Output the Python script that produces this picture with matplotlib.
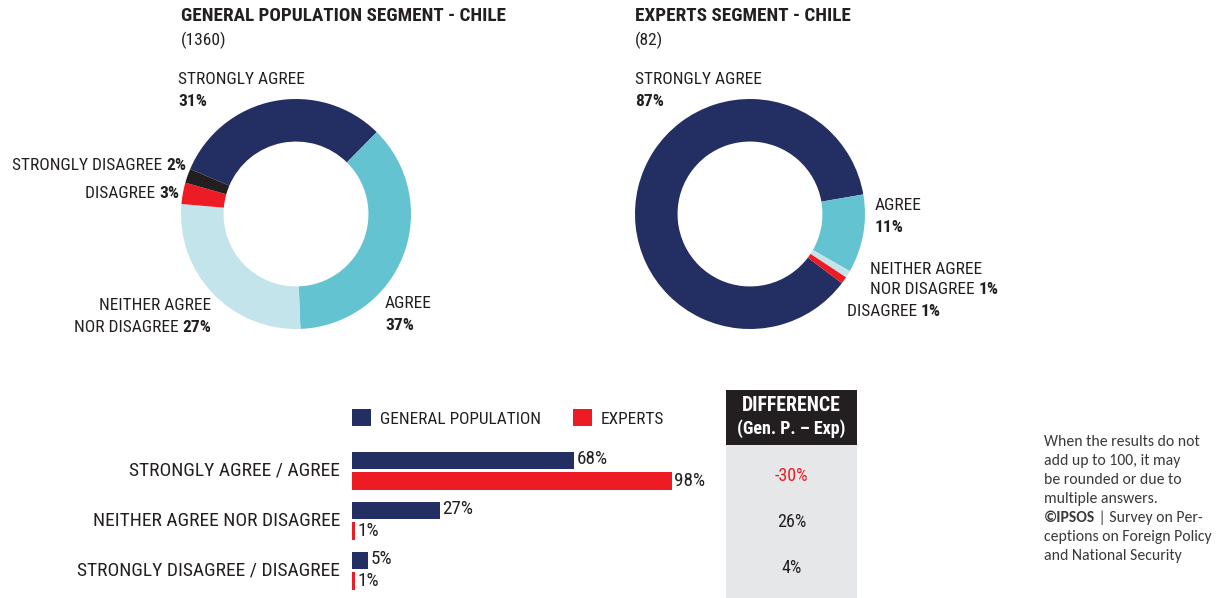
import matplotlib.pyplot as plt
from matplotlib import font_manager
from matplotlib.text import Annotation

W, H = 1217, 598

# data
donut_cats = ['STRONGLY AGREE', 'AGREE', 'NEITHER AGREE NOR DISAGREE', 'DISAGREE', 'STRONGLY DISAGREE']
gen_values = [31, 37, 27, 3, 2]
exp_values = [87, 11, 1, 1]
gen_n = 1360
exp_n = 82

bar_cats = ['STRONGLY AGREE / AGREE', 'NEITHER AGREE NOR DISAGREE', 'STRONGLY DISAGREE / DISAGREE']
bar_gen = [68, 27, 5]
bar_exp = [98, 1, 1]
diff = [g - e for g, e in zip(bar_gen, bar_exp)]

NAVY = '#232E62'
TEAL = '#63C3D1'
LIGHT = '#C2E4EA'
RED = '#ED1C24'
BLACK = '#231F20'
TXT = '#231F20'
donut_colors = [NAVY, TEAL, LIGHT, RED, BLACK]

names = {f.name for f in font_manager.fontManager.ttflist}


def pick(options):
    for o in options:
        if o in names:
            return o
    return 'DejaVu Sans'


FONT = pick(['Liberation Sans Narrow', 'Arial Narrow', 'Roboto Condensed', 'Archivo Narrow', 'Liberation Sans'])
NOTE_FONT = [pick(['Carlito', 'Calibri', 'Lato']), 'DejaVu Sans']
plt.rcParams['font.family'] = [FONT, 'DejaVu Sans']
plt.rcParams['text.color'] = TXT

fig = plt.figure(figsize=(W / 100, H / 100), dpi=100)


def fx(x):
    return x / W


def fy(y):
    return 1 - y / H


def label(x, y, text, size=12.5, weight='normal', ha='left', **kw):
    return fig.text(fx(x), fy(y), text, fontsize=size, fontweight=weight, ha=ha, va='center', **kw)


def attach(text, ref, side, **kw):
    # text glued to the left (side=0) or right (side=1) of another text
    a = Annotation(text, xy=(side, 0), xycoords=ref, ha='left' if side else 'right', va='bottom', **kw)
    fig.add_artist(a)
    return a


def mixed(x, y, reg, bold, size=12.5):
    b = fig.text(fx(x), fy(y), bold, fontsize=size, fontweight='bold', ha='right', va='center')
    attach(reg, b, 0, fontsize=size)
    return b


# ---- donuts
def donut(cx, cy, values, start):
    r = 115
    ax = fig.add_axes([fx(cx - r), fy(cy + r), 2 * r / W, 2 * r / H])
    ax.pie(values, colors=donut_colors[:len(values)], startangle=start, counterclock=False,
           radius=1, wedgeprops=dict(width=0.37, edgecolor='none'))
    ax.set_xlim(-1, 1)
    ax.set_ylim(-1, 1)
    ax.axis('off')
    return ax


donut(296, 214, gen_values, 157)
donut(750, 214, exp_values, -37)

label(181, 16, 'GENERAL POPULATION SEGMENT - CHILE', size=13.8, weight='bold')
label(181, 40, f'({gen_n})', size=12.5)
label(178, 80, donut_cats[0])
label(178, 102, f'{gen_values[0]}%', weight='bold')
mixed(186, 166, 'STRONGLY DISAGREE ', f'{gen_values[4]}%')
mixed(179, 193, 'DISAGREE ', f'{gen_values[3]}%')
label(211, 306, 'NEITHER AGREE', ha='right')
mixed(211, 328, 'NOR DISAGREE ', f'{gen_values[2]}%')
label(385, 303, donut_cats[1])
label(385, 325, f'{gen_values[1]}%', weight='bold')

label(635, 16, 'EXPERTS SEGMENT - CHILE', size=13.8, weight='bold')
label(635, 40, f'({exp_n})', size=12.5)
label(635, 80, donut_cats[0])
label(635, 102, f'{exp_values[0]}%', weight='bold')
label(875, 205, donut_cats[1])
label(875, 227, f'{exp_values[1]}%', weight='bold')
label(870, 269, 'NEITHER AGREE')
nb = label(870, 290, 'NOR DISAGREE ')
attach(f'{exp_values[2]}%', nb, 1, fontsize=12.5, fontweight='bold')
nb2 = label(847, 311, 'DISAGREE ')
attach(f'{exp_values[3]}%', nb2, 1, fontsize=12.5, fontweight='bold')

# ---- bars
ylim = (2.55, -0.51)
axb = fig.add_axes([fx(352), 0, 326.5 / W, 153 / H])
pos = list(range(len(bar_cats)))
h = 0.35
axb.barh([p - 0.2 for p in pos], bar_gen, height=h, color=NAVY, label='GENERAL POPULATION')
axb.barh([p + 0.21 for p in pos], bar_exp, height=h, color=RED, label='EXPERTS')
for p, g, e in zip(pos, bar_gen, bar_exp):
    axb.text(g + 0.7, p - 0.23, f'{g}%', va='center', ha='left', fontsize=13.8, clip_on=False)
    axb.text(e + 0.7, p + 0.22, f'{e}%', va='center', ha='left', fontsize=13.8, clip_on=False)
axb.set_xlim(0, 100)
axb.set_ylim(*ylim)
axb.set_yticks([p - 0.04 for p in pos])
axb.set_yticklabels(bar_cats, fontsize=14)
axb.tick_params(axis='y', length=0, pad=8.5, colors=TXT)
axb.set_xticks([])
for s in axb.spines.values():
    s.set_visible(False)
axb.patch.set_alpha(0)

fig.legend(*axb.get_legend_handles_labels(), loc='center left', bbox_to_anchor=(fx(352), fy(418)),
           ncol=2, frameon=False, fontsize=12.4, handlelength=1.1, handleheight=1.1,
           handletextpad=0.5, columnspacing=1.9, borderpad=0, borderaxespad=0)

# ---- difference box
axd = fig.add_axes([fx(726), 0, 131 / W, 153 / H], facecolor='#E6E7E8')
axd.set_ylim(*ylim)
axd.set_xlim(0, 1)
for p, d in zip(pos, diff):
    axd.text(0.5, p * 0.92 + 0.11, f'{d}%', ha='center', va='center', fontsize=13,
             color=RED if d < 0 else TXT)
axd.set_xticks([])
axd.set_yticks([])
for s in axd.spines.values():
    s.set_visible(False)

axh = fig.add_axes([fx(726), fy(445), 131 / W, 55 / H], facecolor=BLACK)
axh.text(0.5, 0.71, 'DIFFERENCE', ha='center', va='center', color='white', fontsize=14.2, fontweight='bold')
axh.text(0.5, 0.29, '(Gen. P. – Exp)', ha='center', va='center', color='white', fontsize=13, fontweight='bold')
axh.set_xticks([])
axh.set_yticks([])
for s in axh.spines.values():
    s.set_visible(False)

# ---- footnote
note = ['When the results do not', 'add up to 100, it may', 'be rounded or due to',
        'multiple answers.', None, 'ceptions on Foreign Policy', 'and National Security']
for i, line in enumerate(note):
    y = 442 + 19 * i
    if line is None:
        b = label(1044, y, '©IPSOS', size=11.3, weight='bold', family=NOTE_FONT, color='#3A3A3A')
        attach(' | Survey on Per-', b, 1, fontsize=11.3, family=NOTE_FONT, color='#3A3A3A')
    else:
        label(1044, y, line, size=11.3, family=NOTE_FONT, color='#3A3A3A')

fig.savefig('out.png', dpi=100)
